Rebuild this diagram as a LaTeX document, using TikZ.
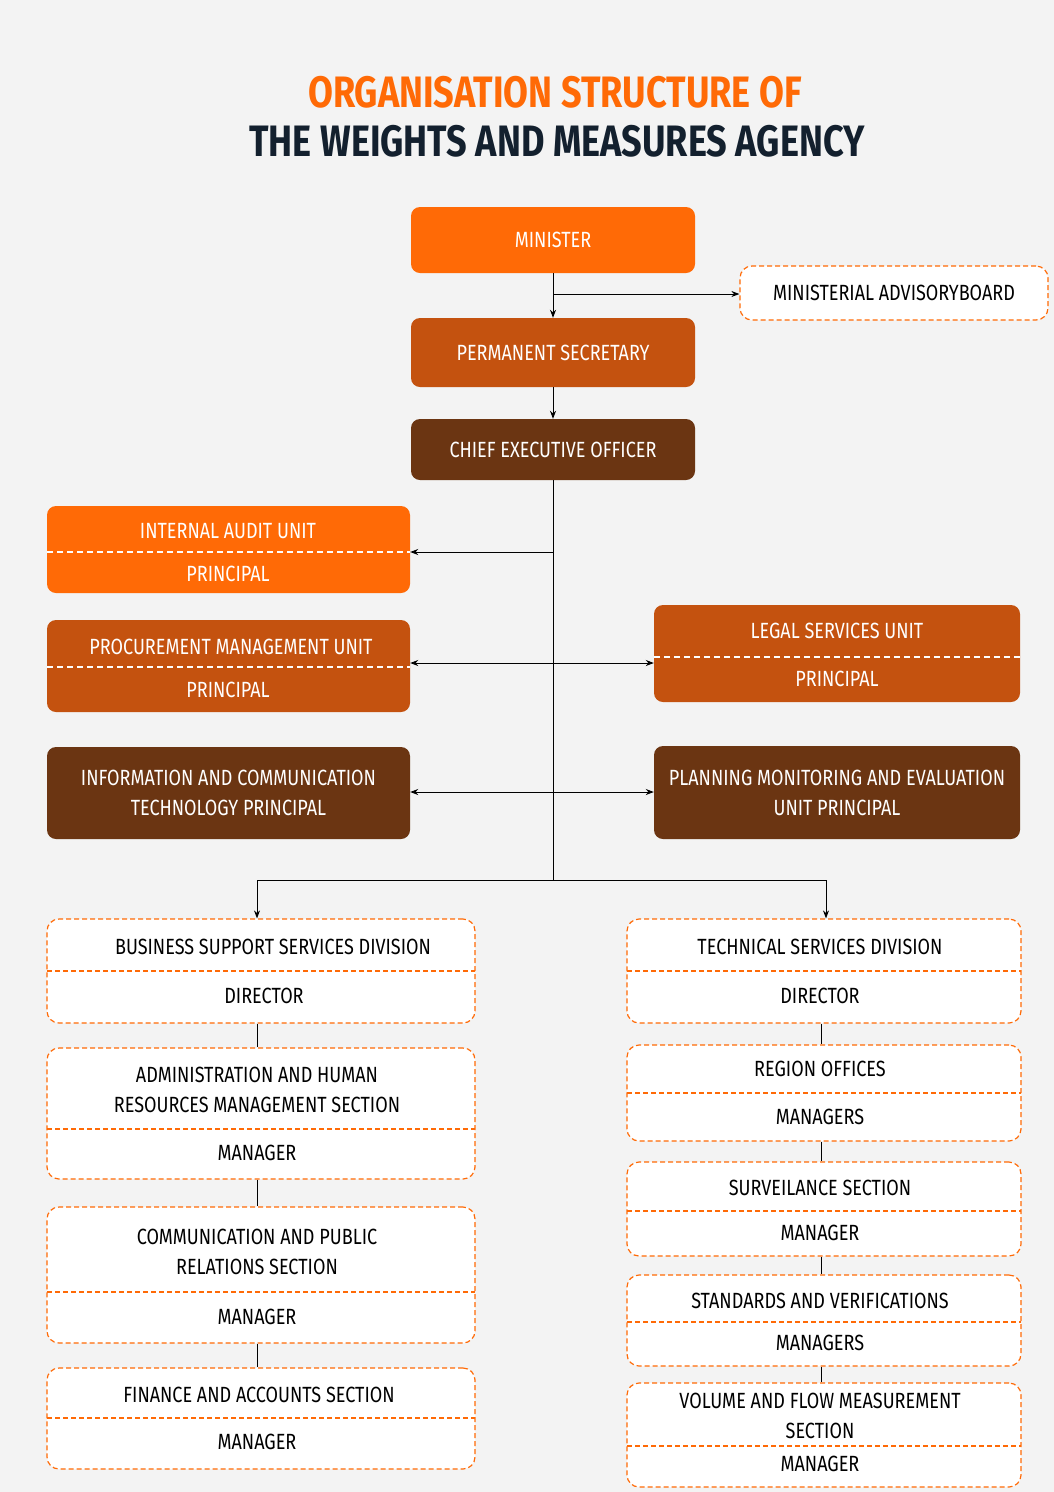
\documentclass[tikz,border=0pt]{standalone}
\usepackage{fontspec}
\setmainfont{Fira Sans}[FakeStretch=0.82]
\usetikzlibrary{arrows.meta}
\definecolor{orangeA}{HTML}{FF6A06}
\definecolor{orangeB}{HTML}{C4520F}
\definecolor{brownC}{HTML}{6B3512}
\definecolor{navy}{HTML}{13202E}
\definecolor{bgray}{HTML}{F3F3F3}
\tikzset{
  solid box/.style={draw=none, rounded corners=9pt, inner sep=0pt},
  dash box/.style={draw=orangeA, dashed, line width=1.2pt, dash pattern=on 5pt off 3pt, rounded corners=12pt, fill=white, inner sep=0pt},
  lbl/.style={font=\fontsize{22}{30}\selectfont, align=center, inner sep=0pt},
  wlbl/.style={lbl, text=white},
  divider/.style={draw=white, dashed, line width=1.2pt, dash pattern=on 6pt off 4pt},
  odivider/.style={draw=orangeA, dashed, line width=1.2pt, dash pattern=on 5pt off 3pt},
  link/.style={draw=black, line width=0.9pt},
  arr/.style={link, -{Stealth[length=8pt,width=6pt]}},
  darr/.style={link, {Stealth[length=8pt,width=6pt]}-{Stealth[length=8pt,width=6pt]}},
}
% box from (x1,y1) to (x2,y2) as a named node
\newcommand\boxat[6]{\node[#1, minimum width={#4-#2}, minimum height={#5-#3}] (#6) at ({(#2+#4)/2},{(#3+#5)/2}) {};}
\begin{document}
\begin{tikzpicture}[x=1pt,y=-1pt]
\fill[bgray] (0,0) rectangle (1054,1492);
\useasboundingbox (0,0) rectangle (1054,1492);

% title
\node[font=\fontsize{44}{50}\selectfont\bfseries, text=orangeA] (t1) at (555,92) {ORGANISATION STRUCTURE OF};
\node[font=\fontsize{44}{50}\selectfont\bfseries, text=navy] (t2) at (557,141) {THE WEIGHTS AND MEASURES AGENCY};

% top chain
\boxat{solid box, fill=orangeA}{411}{207}{695}{273}{min}
\node[wlbl] at (min) {MINISTER};
\boxat{dash box}{740}{266}{1048}{320}{adv}
\node[lbl] at (adv) {MINISTERIAL ADVISORYBOARD};
\boxat{solid box, fill=orangeB}{411}{318}{695}{387}{ps}
\node[wlbl] at (ps) {PERMANENT SECRETARY};
\boxat{solid box, fill=brownC}{411}{419}{695}{480}{ceo}
\node[wlbl] at (ceo) {CHIEF EXECUTIVE OFFICER};

\draw[arr] (min) -- (ps);
\coordinate (advj) at (553,294);
\draw[arr] (advj) -- (adv.west |- advj);
\draw[arr] (ps) -- (ceo);

% units
\boxat{solid box, fill=orangeA}{47}{506}{410}{593}{iau}
\node[wlbl] at (228,531) {INTERNAL AUDIT UNIT};
\node[wlbl] at (228,574) {PRINCIPAL};
\draw[divider] (47,552) -- (410,552);

\boxat{solid box, fill=orangeB}{47}{620}{410}{712}{pmu}
\node[wlbl] at (231,647) {PROCUREMENT MANAGEMENT UNIT};
\node[wlbl] at (228,690) {PRINCIPAL};
\draw[divider] (47,667) -- (410,667);

\boxat{solid box, fill=orangeB}{654}{605}{1020}{702}{lsu}
\node[wlbl] at (837,631) {LEGAL SERVICES UNIT};
\node[wlbl] at (837,679) {PRINCIPAL};
\draw[divider] (654,657) -- (1020,657);

\boxat{solid box, fill=brownC}{47}{747}{410}{839}{ict}
\node[wlbl] at (ict) {INFORMATION AND COMMUNICATION\\TECHNOLOGY PRINCIPAL};
\boxat{solid box, fill=brownC}{654}{746}{1020}{839}{pme}
\node[wlbl] at (pme) {PLANNING MONITORING AND EVALUATION\\UNIT PRINCIPAL};

% trunk
\coordinate (trunk) at (553,880);
\draw[link] (ceo) -- (trunk);
\coordinate (j1) at (553,552);
\coordinate (j2) at (553,663);
\coordinate (j3) at (553,792);
\draw[arr] (j1) -- (iau.east |- j1);
\draw[darr] (pmu.east |- j2) -- (lsu.west |- j2);
\draw[darr] (ict.east |- j3) -- (pme.west |- j3);

% left column
\boxat{dash box}{47}{919}{475}{1023}{bss}
\node[lbl] at (273,947) {BUSINESS SUPPORT SERVICES DIVISION};
\node[lbl] at (264,996) {DIRECTOR};
\draw[odivider] (47,971) -- (475,971);
\boxat{dash box}{47}{1048}{475}{1179}{ahr}
\node[lbl] at (257,1090) {ADMINISTRATION AND HUMAN\\RESOURCES MANAGEMENT SECTION};
\node[lbl] at (257,1153) {MANAGER};
\draw[odivider] (47,1129) -- (475,1129);
\boxat{dash box}{47}{1207}{475}{1343}{cpr}
\node[lbl] at (257,1252) {COMMUNICATION AND PUBLIC\\RELATIONS SECTION};
\node[lbl] at (257,1317) {MANAGER};
\draw[odivider] (47,1292) -- (475,1292);
\boxat{dash box}{47}{1368}{475}{1469}{fas}
\node[lbl] at (259,1395) {FINANCE AND ACCOUNTS SECTION};
\node[lbl] at (257,1442) {MANAGER};
\draw[odivider] (47,1418) -- (475,1418);

% right column
\boxat{dash box}{627}{919}{1021}{1023}{tsd}
\node[lbl] at (820,947) {TECHNICAL SERVICES DIVISION};
\node[lbl] at (820,996) {DIRECTOR};
\draw[odivider] (627,971) -- (1021,971);
\boxat{dash box}{627}{1045}{1021}{1141}{reg}
\node[lbl] at (820,1069) {REGION OFFICES};
\node[lbl] at (820,1117) {MANAGERS};
\draw[odivider] (627,1093) -- (1021,1093);
\boxat{dash box}{627}{1162}{1021}{1256}{sur}
\node[lbl] at (820,1188) {SURVEILANCE SECTION};
\node[lbl] at (820,1233) {MANAGER};
\draw[odivider] (627,1211) -- (1021,1211);
\boxat{dash box}{627}{1275}{1021}{1366}{sav}
\node[lbl] at (820,1301) {STANDARDS AND VERIFICATIONS};
\node[lbl] at (820,1343) {MANAGERS};
\draw[odivider] (627,1322) -- (1021,1322);
\boxat{dash box}{627}{1383}{1021}{1487}{vfm}
\node[lbl] at (820,1416) {VOLUME AND FLOW MEASUREMENT\\SECTION};
\node[lbl] at (820,1464) {MANAGER};
\draw[odivider] (627,1446) -- (1021,1446);

% division branches
\coordinate (lcol) at (257,880);
\coordinate (rcol) at (826,880);
\coordinate (rlink) at (821,0);
\draw[link] (lcol) -- (rcol);
\draw[arr] (lcol) -- (lcol |- bss.north);
\draw[arr] (rcol) -- (rcol |- tsd.north);
\draw[link] (lcol |- bss.south) -- (lcol |- ahr.north);
\draw[link] (lcol |- ahr.south) -- (lcol |- cpr.north);
\draw[link] (lcol |- cpr.south) -- (lcol |- fas.north);
\draw[link] (rlink |- tsd.south) -- (rlink |- reg.north);
\draw[link] (rlink |- reg.south) -- (rlink |- sur.north);
\draw[link] (rlink |- sur.south) -- (rlink |- sav.north);
\draw[link] (rlink |- sav.south) -- (rlink |- vfm.north);
\end{tikzpicture}
\end{document}
